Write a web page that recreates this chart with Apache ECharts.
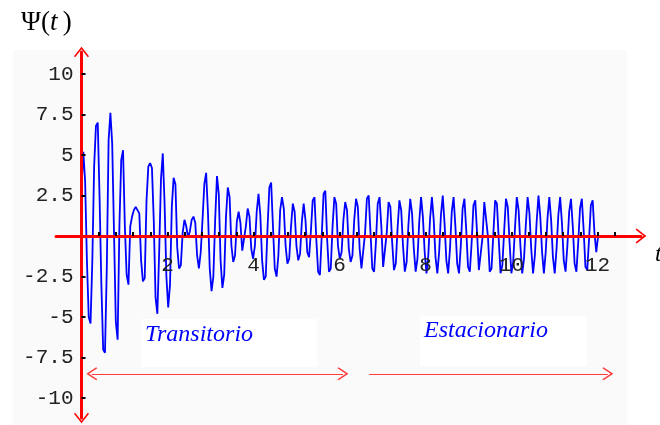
<!DOCTYPE html>
<html>
<head>
<meta charset="utf-8">
<style>
  html, body { margin: 0; padding: 0; background: #ffffff; }
  #chart { width: 660px; height: 425px; }
</style>
<script src="https://cdn.jsdelivr.net/npm/echarts@6/dist/echarts.min.js"></script>
</head>
<body>
<div id="chart"></div>
<script>
// Sampled response Ψ(t): one value every SAMPLE_STEP seconds, starting at t = 0
const SAMPLE_STEP = 0.042;
const psi = [
  3.0, 5.2, 3.4, -1.5, -5.0, -5.4, -1.5, 4.3, 6.8, 7.0,
  2.4, -3.0, -7.0, -7.2, -2.0, 5.9, 7.6, 5.7, 0.2, -5.3,
  -6.4, 0.7, 4.7, 5.3, 0.6, -2.4, -3.0, 0.6, 1.2, 1.6,
  1.8, 1.8, 1.4, -1.5, -2.8, -2.6, 2.2, 4.3, 4.5, 4.2,
  1.0, -3.8, -4.8, -1.0, 3.5, 5.1, 2.0, -2.5, -4.4, -3.0,
  1.8, 3.6, 3.2, -0.7, -2.0, -1.8, 0.2, 1.0, 0.6, -0.1,
  0.3, 1.0, 1.2, 0.8, -1.2, -2.0, -1.0, 1.0, 3.2, 3.9,
  1.5, -2.0, -3.4, -2.5, 1.0, 3.7, 2.6, -1.5, -3.2, -2.4,
  1.2, 3.0, 2.4, -0.6, -1.6, -1.2, 0.9, 1.5, 0.8, -0.9,
  -0.8, 0.6, 1.7, 1.2, -0.8, -1.4, -0.6, 1.5, 2.6, 1.3,
  -1.5, -2.7, -2.5, 0.5, 3.0, 3.3, 0.6, -2.0, -2.5, -1.2,
  1.6, 2.4, 1.7, -0.6, -1.7, -1.4, 0.6, 2.0, 1.5, -0.6,
  -1.5, -1.1, 0.9, 2.0, 1.0, -1.0, -1.3, 0.3, 2.2, 2.4,
  -0.2, -2.2, -2.4, 0.0, 2.6, 2.8, -0.2, -2.2, -2.0, 0.6,
  2.4, 2.0, -0.6, -1.4, -1.0, 1.0, 2.1, 1.6, -0.8, -1.6,
  -1.2, 1.0, 2.3, 1.8, -0.8, -2.0, -2.0, 0.2, 2.3, 2.5,
  0.2, -2.0, -2.2, -0.4, 2.0, 2.4, 0.6, -1.9, -1.8, 0.2,
  2.1, 1.8, -0.4, -2.1, -1.7, 0.5,
  2.2, 1.6, -0.6, -2.2, -1.6, 0.7,
  2.3, 1.4, -0.8, -2.2, -1.4, 0.9,
  2.4, 1.2, -1.0, -2.3, -1.2, 1.1,
  2.4, 1.0, -1.3, -2.3, -1.0, 1.3,
  2.5, 0.8, -1.5, -2.3, -0.8, 1.5,
  2.4, 0.6, -1.7, -2.3, -0.6, 1.7,
  2.3, 0.4, -1.9, -2.2, -0.4, 1.9,
  2.2, 0.2, -2.1, -2.1, -0.1, 2.1,
  2.1, 0.0, -2.2, -2.0, 0.1, 2.2,
  2.0, -0.2, -2.3, -1.8, 0.3, 2.3,
  1.8, -0.4, -2.3, -1.6, 0.5, 2.4,
  1.6, -0.6, -2.3, -1.4, 0.7, 2.4,
  1.4, -0.8, -2.3, -1.2, 0.9, 2.5,
  1.2, -1.0, -2.3, -1.0, 1.1, 2.4,
  1.0, -1.3, -2.3, -0.8, 1.3, 2.4,
  0.8, -1.5, -2.2, -0.6, 1.5, 2.3,
  0.6, -1.7, -2.2, -0.4, 1.7, 2.3,
  0.4, -1.9, -2.1, -0.2, 1.9, 2.2,
  0.2, -1.0, 0.0
];

// Axis tick labels
const xTickValues = [2, 4, 6, 8, 10, 12];
const yTickValues = [-10, -7.5, -5, -2.5, 2.5, 5, 7.5, 10];

// Time spans marked under the curve
const transientSpan = [0.24, 6.08];
const steadySpan = [6.69, 12.24];
const spanLevel = -8.5;

// Axis ranges (the axes cross at the origin, inside the plotting area)
const X_MIN = -0.593, X_MAX = 13.01;
const Y_MIN = -11.23, Y_MAX = 11.36;
const GRID = { left: 56, right: 19, top: 52, bottom: 7 };
const CHART_W = 660, CHART_H = 425;

const seriesData = psi.map((v, i) => [Number((i * SAMPLE_STEP).toFixed(3)), v]);

// Small dots every 0.4 along the time axis
const minorX = [];
for (let k = 1; k <= 31; k++) minorX.push(Math.round(k * 4) / 10);

// Shift each axis from the grid edge onto the other axis's zero
const plotW = CHART_W - GRID.left - GRID.right;
const plotH = CHART_H - GRID.top - GRID.bottom;
const yAxisShift = -plotW * (0 - X_MIN) / (X_MAX - X_MIN);
const xAxisShift = -plotH * (0 - Y_MIN) / (Y_MAX - Y_MIN);

// Open chevron head, drawn pointing up (ECharts turns it along the line)
const CHEVRON = 'path://M0,0 L7,9 L5.9,10 L0,2.5 L-5.9,10 L-7,9 Z';

const chart = echarts.init(document.getElementById('chart'), null, { renderer: 'canvas' });

chart.setOption({
  animation: false,
  backgroundColor: '#ffffff',
  grid: Object.assign({ containLabel: false, outerBoundsMode: 'none' }, GRID),
  xAxis: {
    type: 'value',
    position: 'bottom',
    min: X_MIN,
    max: X_MAX,
    offset: xAxisShift,
    z: 5,
    axisLine: {
      onZero: false,
      lineStyle: { color: '#ff0000', width: 3 },
      symbol: ['none', CHEVRON],
      symbolSize: [15, 11]
    },
    axisTick: {
      show: true,
      customValues: minorX,
      inside: true,
      length: 4,
      lineStyle: { color: '#000000', width: 2 }
    },
    axisLabel: {
      customValues: xTickValues,
      margin: 19,
      fontFamily: 'Liberation Mono',
      fontSize: 21,
      color: '#222222'
    },
    splitLine: { show: false }
  },
  yAxis: {
    type: 'value',
    position: 'left',
    min: Y_MIN,
    max: Y_MAX,
    offset: yAxisShift,
    z: 5,
    axisLine: {
      onZero: false,
      lineStyle: { color: '#ff0000', width: 3 },
      symbol: [CHEVRON, CHEVRON],
      symbolSize: [15, 11]
    },
    axisTick: {
      show: true,
      customValues: yTickValues,
      inside: true,
      length: 4,
      lineStyle: { color: '#000000', width: 2 }
    },
    axisLabel: {
      customValues: yTickValues,
      margin: 8,
      fontFamily: 'Liberation Mono',
      fontSize: 21,
      color: '#222222',
      formatter: (v) => String(v)
    },
    splitLine: { show: false }
  },
  series: [
    {
      type: 'line',
      data: seriesData,
      showSymbol: false,
      symbol: 'none',
      z: 2,
      lineStyle: { color: '#0000ff', width: 1.8 },
      markLine: {
        silent: true,
        symbol: [CHEVRON, CHEVRON],
        symbolSize: [13, 11],
        label: { show: false },
        lineStyle: { color: '#ff3b3b', width: 1, type: 'solid' },
        data: [
          [{ coord: [transientSpan[0], spanLevel] }, { coord: [transientSpan[1], spanLevel] }],
          [{ coord: [steadySpan[0], spanLevel], symbol: 'none' }, { coord: [steadySpan[1], spanLevel] }]
        ]
      }
    }
  ],
  graphic: [
    { type: 'rect', z: -10, shape: { x: 13, y: 50, width: 614, height: 375 }, style: { fill: '#fafafa' } },
    { type: 'rect', z: -9, shape: { x: 141, y: 319, width: 176, height: 48 }, style: { fill: '#ffffff' } },
    { type: 'rect', z: -9, shape: { x: 420, y: 316, width: 167, height: 50 }, style: { fill: '#ffffff' } },
    {
      type: 'text', left: 21, top: 9, z: 10,
      style: {
        text: '{a|Ψ(}{b|t\u2009}{a|)}',
        rich: {
          a: { fontFamily: 'Liberation Serif', fontSize: 27, fill: '#000000' },
          b: { fontFamily: 'Liberation Serif', fontSize: 27, fontStyle: 'italic', fill: '#000000' }
        }
      }
    },
    {
      type: 'text', left: 655, top: 243, z: 10,
      style: { text: 't', fontFamily: 'Liberation Serif', fontStyle: 'italic', fontSize: 24, fill: '#000000' }
    },
    {
      type: 'text', left: 145, top: 323, z: 10,
      style: { text: 'Transitorio', fontFamily: 'Liberation Serif', fontStyle: 'italic', fontSize: 24, fill: '#0000ff' }
    },
    {
      type: 'text', left: 424, top: 319, z: 10,
      style: { text: 'Estacionario', fontFamily: 'Liberation Serif', fontStyle: 'italic', fontSize: 24, fill: '#0000ff' }
    }
  ]
});
</script>
</body>
</html>
